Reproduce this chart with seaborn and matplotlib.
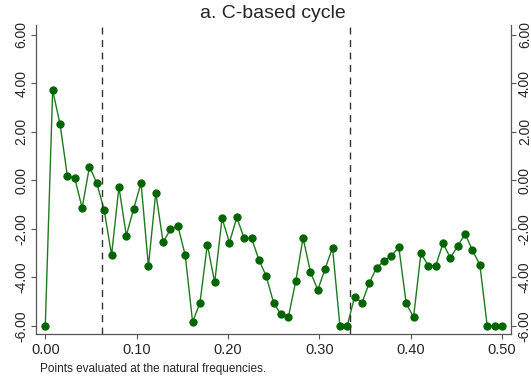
import numpy as np
import pandas as pd
import matplotlib
matplotlib.use("Agg")
import matplotlib.pyplot as plt
import seaborn as sns

# Values (frequencies k/124, k = 0..62)
n_obs = 124
gain = [-6.00, 3.71, 2.32, 0.16, 0.09, -1.14, 0.56, -0.12, -1.24, -3.08,
        -0.28, -2.28, -1.18, -0.11, -3.55, -0.51, -2.56, -2.02, -1.88, -3.09,
        -5.84, -5.06, -2.65, -4.21, -1.57, -2.57, -1.53, -2.39, -2.39, -3.27,
        -3.96, -5.05, -5.53, -5.65, -4.17, -2.38, -3.78, -4.52, -3.64, -2.78,
        -6.00, -6.00, -4.80, -5.05, -4.22, -3.60, -3.33, -3.12, -2.76, -5.07,
        -5.65, -3.01, -3.52, -3.53, -2.60, -3.20, -2.71, -2.21, -2.89, -3.48,
        -6.00, -6.00, -6.00]
band_lines = [1 / 16, 1 / 3]
x_ticks = [0.0, 0.1, 0.2, 0.3, 0.4, 0.5]
y_ticks = [-6, -4, -2, 0, 2, 4, 6]

df = pd.DataFrame({"freq": np.arange(len(gain)) / n_obs, "value": gain})

sns.set_style("white")
plt.rcParams["font.family"] = ["Liberation Sans", "DejaVu Sans"]

fig = plt.figure(figsize=(5.31, 3.81), dpi=100)
ax = fig.add_axes([35.7 / 531, 1 - 334.3 / 381, 475 / 531, 309.3 / 381])

sns.lineplot(data=df, x="freq", y="value", ax=ax, color="#1e7a1e", linewidth=1.0,
             marker="o", markersize=5.2, markerfacecolor="#006400",
             markeredgecolor="#006400")

# band limits
for b in band_lines:
    ax.axvline(b, color="#333333", linestyle=(0, (5, 4)), linewidth=1.0)

ax.set_xlim(-0.0105, 0.5096)
ax.set_ylim(-6.35, 6.40)
ax.set_xticks(x_ticks)
ax.set_xticklabels([f"{t:.2f}" for t in x_ticks])
ax.set_yticks(y_ticks)
ax.set_yticklabels([f"{t:.2f}" for t in y_ticks])
ax.tick_params(axis="y", right=True, labelright=True, left=True, labelleft=True,
               length=3.6, width=0.8, color="#555555", labelsize=10, pad=1.5)
ax.tick_params(axis="x", bottom=True, length=3.6, width=0.8, color="#555555",
               labelsize=10.5, pad=2.5)
for t in ax.yaxis.get_major_ticks():
    for lab in (t.label1, t.label2):
        lab.set_rotation(90)
        lab.set_va("center")
ax.set_xlabel("")
ax.set_ylabel("")

for side in ["left", "right", "bottom"]:
    ax.spines[side].set_visible(True)
    ax.spines[side].set_color("#555555")
    ax.spines[side].set_linewidth(0.9)
ax.spines["top"].set_visible(False)

fig.text(273 / 531, 1 - 13 / 381, "a. C-based cycle", ha="center", va="center",
         fontsize=14)
fig.text(40 / 531, 1 - 369 / 381, "Points evaluated at the natural frequencies.",
         ha="left", va="center", fontsize=8.5)

fig.savefig("out.png", dpi=100)
